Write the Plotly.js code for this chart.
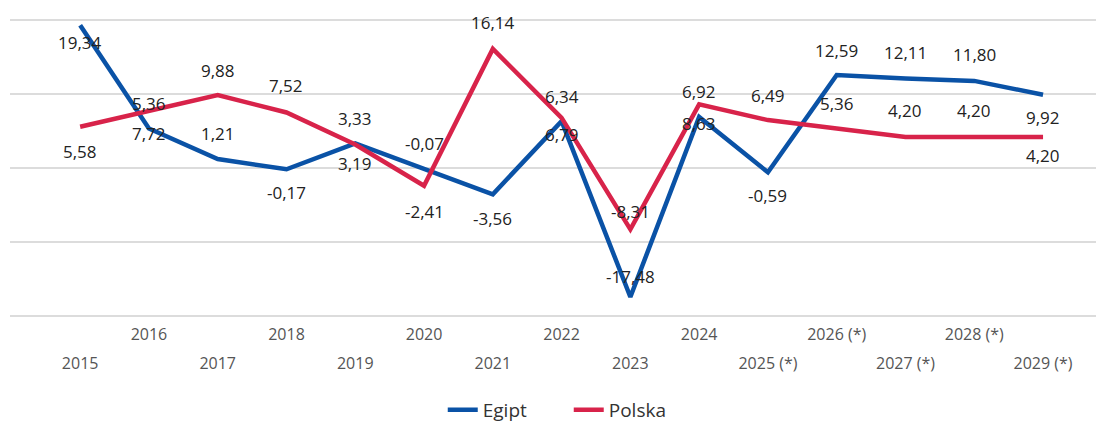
<!DOCTYPE html>
<html>
<head>
<meta charset="utf-8">
<script src="https://cdn.plot.ly/plotly-3.0.1.min.js"></script>
<style>html,body{margin:0;padding:0;background:#fff;}#chart{width:1096px;height:430px;}</style>
</head>
<body>
<div id="chart"></div>
<script>
// Data
var years = ["2015","2016","2017","2018","2019","2020","2021","2022","2023","2024","2025 (*)","2026 (*)","2027 (*)","2028 (*)","2029 (*)"];
var egipt = [19.34, 5.36, 1.21, -0.17, 3.33, -0.07, -3.56, 6.34, -17.48, 6.92, -0.59, 12.59, 12.11, 11.80, 9.92];
var polska = [5.58, 7.72, 9.88, 7.52, 3.19, -2.41, 16.14, 6.79, -8.31, 8.63, 6.49, 5.36, 4.20, 4.20, 4.20];

// Label offsets in px (style only)
var egiptShift = [-17, 25, 26, -23, 25, 25, -24, 25, 21, 25, -23, 25, 26, 26, -23];
var polskaShift = [-25, -22, 25, 27, -19, -26, 26, -17, 18, -19, 25, 25, 27, 27, -18];

var blue = "#0a52a6", red = "#d8234a";
var fontFam = "'Segoe UI', 'Open Sans', 'Noto Sans', sans-serif";

function fmt(v){ return v.toFixed(2).replace('.', ','); }

var annotations = [];
years.forEach(function(yr, i){
  annotations.push({x: i, y: egipt[i], xref: 'x', yref: 'y', text: fmt(egipt[i]), showarrow: false, yshift: egiptShift[i], font: {size: 17, color: '#222', family: fontFam}});
  annotations.push({x: i, y: polska[i], xref: 'x', yref: 'y', text: fmt(polska[i]), showarrow: false, yshift: polskaShift[i], font: {size: 17, color: '#222', family: fontFam}});
});

var oddYears = years.filter(function(_, i){ return i % 2 === 1; });
var evenYears = years.filter(function(_, i){ return i % 2 === 0; });

var traces = [
  {x: years, y: egipt, name: 'Egipt', type: 'scatter', mode: 'lines', line: {color: blue, width: 4.5}, xaxis: 'x', yaxis: 'y', hoverinfo: 'skip'},
  {x: years, y: polska, name: 'Polska', type: 'scatter', mode: 'lines', line: {color: red, width: 4.5}, xaxis: 'x2', yaxis: 'y', hoverinfo: 'skip'}
];

var layout = {
  width: 1096, height: 430,
  margin: {l: 10, r: 0, t: 13, b: 107, autoexpand: false},
  paper_bgcolor: '#fff', plot_bgcolor: '#fff',
  showlegend: true,
  legend: {orientation: 'h', x: 0.5145, xanchor: 'center', y: -0.342, yanchor: 'bottom', font: {size: 19, color: '#333', family: fontFam}, entrywidth: 81},
  xaxis: {
    type: 'category', categoryarray: years, categoryorder: 'array',
    range: [-1.02, 14.77], showgrid: false, zeroline: false, showline: false, ticks: '',
    tickmode: 'array', tickvals: oddYears, ticktext: oddYears, automargin: false,
    tickfont: {size: 16, color: '#555', family: fontFam}, ticklabelstandoff: 0
  },
  xaxis2: {
    type: 'category', categoryarray: years, categoryorder: 'array',
    overlaying: 'x', matches: 'x', anchor: 'y', side: 'bottom', automargin: false,
    showgrid: false, zeroline: false, showline: false, ticks: '',
    tickmode: 'array', tickvals: evenYears, ticktext: evenYears,
    tickfont: {size: 16, color: '#555', family: fontFam}, ticklabelstandoff: 29
  },
  yaxis: {
    range: [-21, 21], tickvals: [-20, -10, 0, 10, 20], showticklabels: false,
    showgrid: true, gridcolor: '#dcdcdc', gridwidth: 2, zeroline: false, showline: false, ticks: ''
  },
  annotations: annotations
};

Plotly.newPlot('chart', traces, layout, {displayModeBar: false, staticPlot: true});
</script>
</body>
</html>
